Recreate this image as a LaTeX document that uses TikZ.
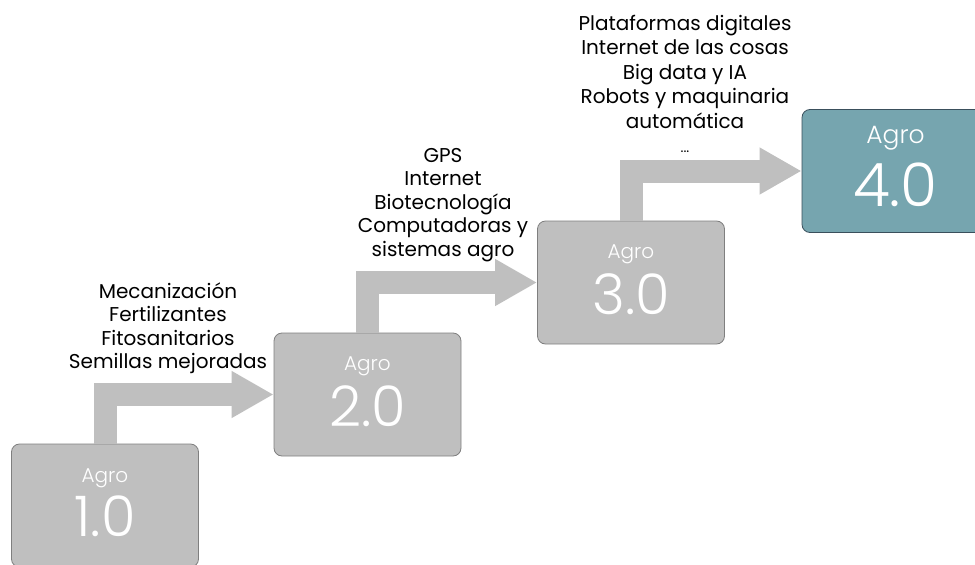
\documentclass[tikz,border=0pt]{standalone}
\usepackage{fontspec}
\setmainfont{Poppins}
\newfontfamily\lightfont{Poppins Light}
\usetikzlibrary{calc,arrows.meta}

\definecolor{stepgray}{HTML}{BFBFBF}
\definecolor{stepedge}{HTML}{7F7F7F}
\definecolor{agroteal}{HTML}{76A5AF}
\definecolor{agroedge}{HTML}{3A4F5C}

\tikzset{
  stage/.style={draw=stepedge, fill=stepgray, line width=0.8pt, rounded corners=8pt,
    minimum width=187pt, minimum height=123pt, inner sep=0pt},
  agrolbl/.style={text=white, font=\lightfont\fontsize{20}{20}\selectfont, anchor=base, inner sep=0pt},
  numlbl/.style={text=white, font=\lightfont\fontsize{56}{56}\selectfont, anchor=base, inner sep=0pt},
  flow/.style={draw=stepgray, line width=23pt, line join=miter,
    -{Triangle[length=42pt,width=44pt]}},
  note/.style={align=center, font=\fontsize{20}{23.5}\selectfont, inner sep=0pt}
}

\begin{document}
\begin{tikzpicture}[x=1pt, y=-1pt]
    \useasboundingbox (0,0) rectangle (975,565);
    % stages
    \node (box1) [stage] at (105,505.5) {};
    \node (box2) [stage] at (367.5,394.5) {};
    \node (box3) [stage] at (631,282.5) {};
    \node (box4) [stage, draw=agroedge, fill=agroteal] at (895.5,171) {};
    % arrows between stages
    \draw[flow] (box1) |- (box2);
    \draw[flow] (box2) |- (box3);
    \draw[flow] (box3) |- (box4);
    % labels in the boxes
    \node (agro1) [agrolbl] at ($(box1.north)+(0,38.5)$) {Agro};
    \node (num1) [numlbl] at ($(box1.north)+(0,92.5)$) {1.0};
    \node (agro2) [agrolbl] at ($(box2.north)+(0,37.5)$) {Agro};
    \node (num2) [numlbl] at ($(box2.north)+(0,93.5)$) {2.0};
    \node (agro3) [agrolbl] at ($(box3.north)+(0,37.5)$) {Agro};
    \node (num3) [numlbl] at ($(box3.north)+(0,93.5)$) {3.0};
    \node (agro4) [agrolbl, font=\lightfont\fontsize{25}{25}\selectfont] at ($(box4.north)+(0,34)$) {Agro};
    \node (num4) [numlbl, font=\lightfont\fontsize{60}{60}\selectfont] at ($(box4.north)+(0,97)$) {4.0};
    % technologies
    \node (note1) [note] at (168,328) {Mecanización\\Fertilizantes\\Fitosanitarios\\Semillas mejoradas};
    \node (note2) [note] at (443,205) {GPS\\Internet\\Biotecnología\\Computadoras y\\sistemas agro};
    \node (note3) [note, font=\fontsize{20}{24.5}\selectfont] at (685,84) {Plataformas digitales\\Internet de las cosas\\Big data y IA\\Robots y maquinaria\\automática\\{\fontsize{14}{24.5}\selectfont ...}};
\end{tikzpicture}
\end{document}
